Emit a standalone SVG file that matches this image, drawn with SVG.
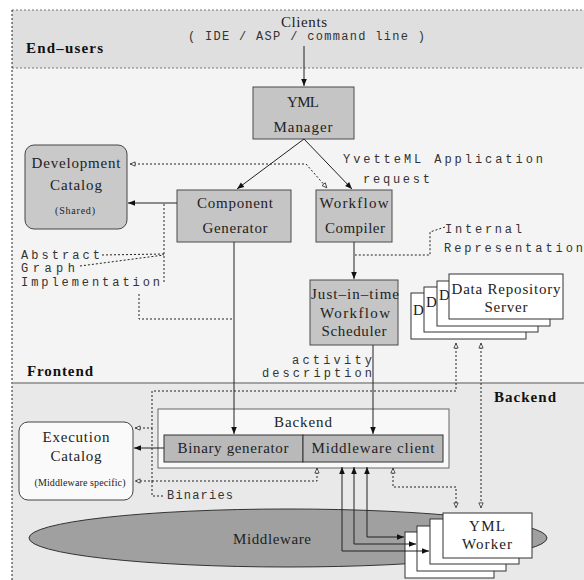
<svg xmlns="http://www.w3.org/2000/svg" width="584" height="580" viewBox="0 0 584 580">
<defs>
<style>
.bx{fill:#c5c5c5;stroke:#4a4a4a;stroke-width:1}
.wb{fill:#ffffff;stroke:#333;stroke-width:1}
.t{font-family:"Liberation Serif","DejaVu Serif","Times New Roman",serif;font-size:15px;fill:#222;text-anchor:middle}
.ts{font-family:"Liberation Serif","DejaVu Serif","Times New Roman",serif;font-size:10px;fill:#222;text-anchor:middle}
.lb{font-family:"Liberation Serif","DejaVu Serif","Times New Roman",serif;font-size:15px;font-weight:bold;fill:#111}
.m{font-family:"Liberation Mono","Courier New",monospace;font-size:12px;fill:#333}
.sl{fill:none;stroke:#222;stroke-width:1}
.dl{fill:none;stroke:#222;stroke-width:1;stroke-dasharray:2,2}
</style>
<marker id="ah" viewBox="0 0 10 10" refX="10" refY="5" markerWidth="9" markerHeight="7" orient="auto-start-reverse" markerUnits="userSpaceOnUse"><path d="M0,1 L10,5 L0,9 z" fill="#111"/></marker>
<marker id="oh" viewBox="0 0 10 10" refX="9.5" refY="5" markerWidth="8" markerHeight="6" orient="auto-start-reverse" markerUnits="userSpaceOnUse"><path d="M1,1.5 L9,5 L1,8.5 z" fill="#fff" stroke="#222" stroke-width="1.3"/></marker>
</defs>

<g id="regions">
<rect x="0" y="0" width="584" height="580" fill="#ffffff"/>
<rect x="12" y="10" width="572" height="58" fill="#dfdfdf"/>
<rect x="12" y="68" width="572" height="315" fill="#f4f4f4"/>
<rect x="12" y="383" width="572" height="197" fill="#e9e9e9"/>
<line x1="12" y1="10" x2="584" y2="10" stroke="#777" stroke-dasharray="2,2"/>
<line x1="12" y1="68" x2="584" y2="68" stroke="#777" stroke-dasharray="2,2"/>
<line x1="12" y1="10" x2="12" y2="580" stroke="#222" stroke-dasharray="2,2"/>
<line x1="12" y1="383" x2="584" y2="383" stroke="#8a8a8a" stroke-width="1.5"/>
<text class="lb" x="26" y="53" textLength="77">End–users</text>
<text class="lb" x="27" y="376" textLength="66">Frontend</text>
<text class="lb" x="494" y="402" textLength="62">Backend</text>
</g>

<g id="clients">
<text class="t" x="304" y="27" textLength="46">Clients</text>
<text class="m" x="188" y="40" textLength="237">( IDE  / ASP / command line )</text>
</g>

<g id="middleware">
<ellipse cx="288" cy="538" rx="259" ry="29" fill="#a0a0a0" stroke="#333"/>
<text class="t" x="272" y="544" textLength="78">Middleware</text>
</g>

<g id="yml-manager">
<rect class="bx" x="253" y="87" width="101" height="52"/>
<text class="t" x="303" y="107" textLength="32">YML</text>
<text class="t" x="303" y="132" textLength="59">Manager</text>
</g>

<g id="development-catalog">
<rect x="25" y="145" width="102" height="84" rx="9" fill="#c9c9c9" stroke="#444"/>
<text class="t" x="76" y="168" textLength="89">Development</text>
<text class="t" x="76" y="190" textLength="52">Catalog</text>
<text class="ts" x="75" y="214" textLength="40">(Shared)</text>
</g>

<g id="component-generator">
<rect class="bx" x="177" y="190" width="114" height="52"/>
<text class="t" x="235" y="208" textLength="76">Component</text>
<text class="t" x="235" y="233" textLength="65">Generator</text>
</g>

<g id="workflow-compiler">
<rect class="bx" x="316" y="190" width="76" height="52"/>
<text class="t" x="354" y="208" textLength="69">Workflow</text>
<text class="t" x="355" y="233" textLength="60">Compiler</text>
</g>

<g id="jit-scheduler">
<rect class="bx" x="310" y="280" width="88" height="65"/>
<text class="t" x="355" y="299" textLength="88">Just–in–time</text>
<text class="t" x="355" y="318" textLength="70">Workflow</text>
<text class="t" x="354" y="336" textLength="65">Scheduler</text>
</g>

<g id="data-repository-server">
<rect class="wb" x="411" y="293" width="115" height="46"/>
<text class="t" x="413" y="315" style="text-anchor:start">D</text>
<rect class="wb" x="424" y="287" width="114" height="45"/>
<text class="t" x="426" y="307" style="text-anchor:start">D</text>
<rect class="wb" x="437" y="281" width="113" height="45"/>
<text class="t" x="439" y="300" style="text-anchor:start">D</text>
<rect class="wb" x="449" y="274" width="114" height="45"/>
<text class="t" x="506" y="294" textLength="109">Data Repository</text>
<text class="t" x="506" y="312" textLength="43">Server</text>
</g>

<g id="backend">
<rect x="158" y="409" width="291" height="59" fill="#f8f8f8" stroke="#666"/>
<text class="t" x="303" y="427" textLength="58">Backend</text>
<rect x="164" y="435" width="139" height="27" fill="#b9b9b9" stroke="#333"/>
<text class="t" x="233" y="453" textLength="111">Binary generator</text>
<rect x="303" y="435" width="140" height="27" fill="#b9b9b9" stroke="#333"/>
<text class="t" x="373" y="453" textLength="123">Middleware client</text>
</g>

<g id="execution-catalog">
<rect x="19" y="422" width="114" height="78" rx="9" fill="#fafafa" stroke="#444"/>
<text class="t" x="76" y="442" textLength="67">Execution</text>
<text class="t" x="76" y="461" textLength="51">Catalog</text>
<text class="ts" x="80" y="486" textLength="91">(Middleware specific)</text>
</g>

<g id="yml-worker">
<rect class="wb" x="405" y="532" width="89" height="46"/>
<rect class="wb" x="417" y="526" width="89" height="45"/>
<rect class="wb" x="430" y="519" width="89" height="45"/>
<rect class="wb" x="443" y="513" width="89" height="45"/>
<text class="t" x="487" y="531" textLength="36">YML</text>
<text class="t" x="487" y="549" textLength="50">Worker</text>
</g>

<g id="annotations">
<text class="m" x="343" y="163" textLength="200">YvetteML Application</text>
<text class="m" x="363" y="183" textLength="67">request</text>
<text class="m" x="21" y="259" textLength="79">Abstract</text>
<text class="m" x="21" y="272" textLength="54">Graph</text>
<text class="m" x="21" y="286" textLength="139">Implementation</text>
<text class="m" x="445" y="233" textLength="77">Internal</text>
<text class="m" x="444" y="252" textLength="139">Representation</text>
<text class="m" x="292" y="364" textLength="80">activity</text>
<text class="m" x="262" y="377" textLength="110">description</text>
<text class="m" x="167" y="499" textLength="66">Binaries</text>
</g>

<g id="connectors">
<line class="sl" x1="304" y1="46" x2="304" y2="86" marker-end="url(#ah)"/>
<line class="sl" x1="304" y1="139" x2="237" y2="189" marker-end="url(#ah)"/>
<line class="sl" x1="304" y1="139" x2="352" y2="189" marker-end="url(#ah)"/>
<line class="sl" x1="177" y1="203" x2="128" y2="203" marker-end="url(#ah)"/>
<line class="sl" x1="354" y1="242" x2="354" y2="279" marker-end="url(#ah)"/>
<line class="sl" x1="234" y1="242" x2="234" y2="434" stroke="#555" marker-end="url(#ah)"/>
<line class="sl" x1="373" y1="345" x2="373" y2="434" stroke="#555" marker-end="url(#ah)"/>
<line class="sl" x1="164" y1="448" x2="134" y2="448" marker-end="url(#ah)"/>
<polyline class="sl" points="342,467 342,551 429,551" marker-start="url(#ah)" marker-end="url(#ah)"/>
<polyline class="sl" points="354,467 354,544 416,544" marker-start="url(#ah)" marker-end="url(#ah)"/>
<polyline class="sl" points="367,467 367,537 404,537" marker-start="url(#ah)" marker-end="url(#ah)"/>

<polyline class="dl" points="130,164 306,164 327,188" marker-start="url(#oh)" marker-end="url(#oh)"/>
<line class="dl" x1="164" y1="204" x2="164" y2="284"/>
<line class="dl" x1="102" y1="255" x2="164" y2="254"/>
<line class="dl" x1="80" y1="266" x2="164" y2="255"/>
<polyline class="dl" points="139,294 139,319 234,319"/>
<polyline class="dl" points="445,227 430,232 430,255 355,255"/>
<polyline class="dl" points="456,343 456,391 152,391 152,428 135,428" marker-start="url(#oh)" marker-end="url(#oh)"/>
<line class="dl" x1="152" y1="428" x2="152" y2="481"/>
<line class="dl" x1="481" y1="343" x2="481" y2="508" marker-start="url(#oh)" marker-end="url(#oh)"/>
<polyline class="dl" points="317,468 317,481 135,481" marker-start="url(#oh)" marker-end="url(#oh)"/>
<polyline class="dl" points="393,468 393,487 456,487 456,508" marker-start="url(#oh)" marker-end="url(#oh)"/>
<polyline class="dl" points="152,481 152,496 165,496"/>
</g>
</svg>
